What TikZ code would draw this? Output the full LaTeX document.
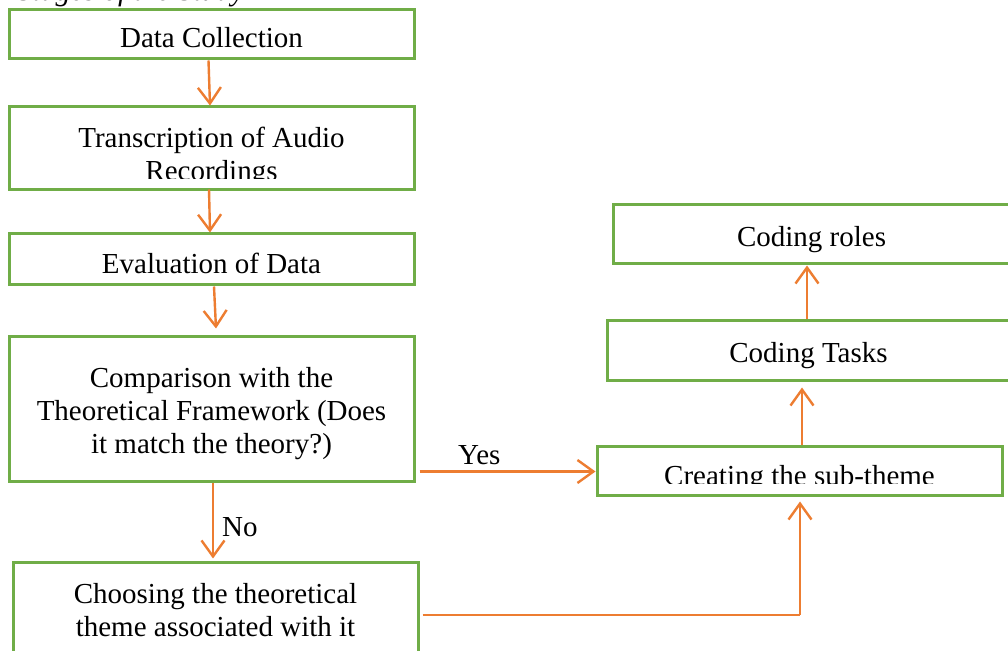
\documentclass[tikz,border=0pt]{standalone}
\usepackage{fontspec}
\setmainfont{Liberation Serif}
\usetikzlibrary{arrows.meta,calc}
\definecolor{boxgreen}{HTML}{70AD47}
\definecolor{linkorange}{HTML}{ED7D31}
\tikzset{
  x=1pt,y=1pt,
  stage/.style={draw=boxgreen,line width=3pt,fill=white,inner sep=0pt},
  link/.style={draw=linkorange,line width=2.4pt,
    -{Straight Barb[length=16pt,width=23pt,line width=2.4pt]}},
  tag/.style={font=\fontsize{29}{33}\selectfont,inner sep=0pt,align=center}
}
\begin{document}
\begin{tikzpicture}
\clip (0,0) rectangle (1008,650);
\fill[white] (0,0) rectangle (1008,650);

% heading, cut by the top edge
\node[tag,font=\fontsize{30}{33}\selectfont\itshape,anchor=base west] (head) at (17,649.5) {Stages of the Study};

% left column: frames
\node[stage,minimum width=405,minimum height=49] (dc) at (211.5,615.5) {};
\node[stage,minimum width=405,minimum height=83] (tr) at (211.5,501.5) {};
\node[stage,minimum width=405,minimum height=51] (ev) at (211.5,390.5) {};
\node[stage,minimum width=405,minimum height=145] (cmp) at (211.5,240.5) {};
\node[stage,minimum width=405,minimum height=110] (ch) at (215.5,32) {};

% right column: frames
\node[stage,minimum width=405,minimum height=49] (sub) at (799.5,178.5) {};
\node[stage,minimum width=410,minimum height=60] (tasks) at (812,299) {};
\node[stage,minimum width=400,minimum height=59] (roles) at (813,415.5) {};

% texts
\node[tag] (dct) at (211.5,612.5) {Data Collection};
\begin{scope}
  \clip (12,471) rectangle (411,541);
  \node[tag] (trt) at (211.5,493) {Transcription of Audio\\Recordings};
\end{scope}
\node[tag] (evt) at (211.5,386.5) {Evaluation of Data};
\node[tag] (cmpt) at (211.5,236.5) {Comparison with the\\Theoretical Framework (Does\\it match the theory?)};
\node[tag] (cht) at (215.5,40) {Choosing the theoretical\\theme associated with it};
\begin{scope}
  \clip (600,166) rectangle (999,201);
  \node[tag] (subt) at (799.5,171) {Creating the sub-theme};
\end{scope}
\node[tag] (taskst) at (808.5,294) {Coding Tasks};
\node[tag] (rolest) at (811.5,410.5) {Coding roles};

% connectors
\draw[link] ([xshift=-3pt]dc.south) -- ([xshift=-1.5pt]tr.north);
\draw[link] ([xshift=-2.5pt,yshift=2pt]tr.south) -- ([xshift=-1.5pt]ev.north);
\draw[link] ([xshift=2.5pt]ev.south) -- ([xshift=4.5pt,yshift=7pt]cmp.north);
\draw[link] ([xshift=4pt]cmp.east |- sub.west) -- (sub.west)
  node[pos=0.34,above=6pt,tag] (yes) {Yes};
\draw[link] ([xshift=1.5pt]cmp.south) -- ([xshift=-2.5pt,yshift=3pt]ch.north)
  node[pos=0.58,right=8pt,tag] (no) {No};
\coordinate (bend) at ([xshift=0.5pt]sub.south |- 0,35);
\draw[draw=linkorange,line width=1.8pt] ([xshift=3pt]ch.east |- bend) -- (bend);
\draw[link] (bend) -- ([xshift=0.5pt,yshift=-4pt]sub.south);
\draw[link] ([xshift=2.5pt]sub.north) -- ([xshift=-10pt,yshift=-5pt]tasks.south);
\draw[link] ([xshift=-5pt]tasks.north) -- ([xshift=-6pt]roles.south);
\end{tikzpicture}
\end{document}
